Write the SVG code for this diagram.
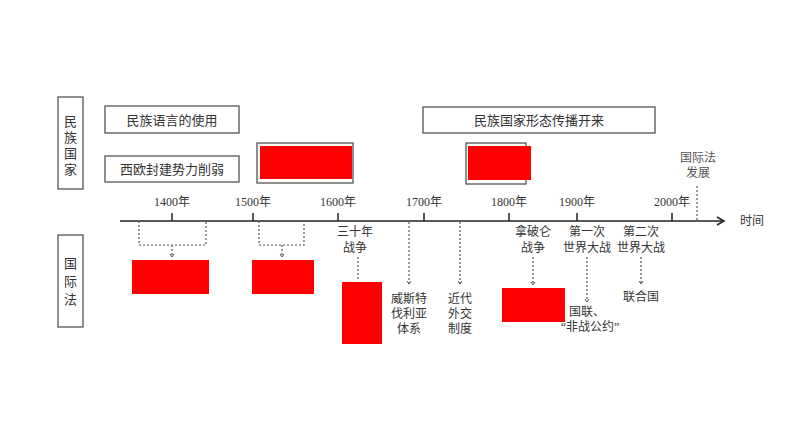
<svg xmlns="http://www.w3.org/2000/svg" width="794" height="447" viewBox="0 0 794 447">
<defs>
<style>
text{font-family:"Liberation Serif","Noto Sans CJK SC",serif;fill:#333;text-anchor:middle;dominant-baseline:central}
.t{font-size:13px}
.s{font-size:12px}
.box{fill:#fff;stroke:#555;stroke-width:1.3}
.red{fill:#ff0000}
.dot{fill:none;stroke:#555;stroke-width:1.2;stroke-dasharray:2 2}
.ax{stroke:#222;stroke-width:1.5;fill:none}
</style>
<marker id="ah" markerWidth="6" markerHeight="6" refX="3" refY="3" orient="auto" markerUnits="userSpaceOnUse"><path d="M0,1 L3,3 L0,5" fill="none" stroke="#555" stroke-width="1"/></marker>
<marker id="big" markerWidth="10" markerHeight="10" refX="8" refY="5" orient="auto" markerUnits="userSpaceOnUse"><path d="M1,1 L8,5 L1,9" fill="none" stroke="#222" stroke-width="1.5"/></marker>
</defs>

<g id="label-nation">
<rect class="box" x="58" y="97" width="25" height="92"/>
<text class="t" x="70.5" y="121" font-size="15">民</text>
<text class="t" x="70.5" y="137" font-size="15">族</text>
<text class="t" x="70.5" y="153" font-size="15">国</text>
<text class="t" x="70.5" y="169" font-size="15">家</text>
</g>
<g id="label-law">
<rect class="box" x="58" y="235" width="25" height="92"/>
<text class="t" x="70.5" y="263" font-size="15">国</text>
<text class="t" x="70.5" y="281" font-size="15">际</text>
<text class="t" x="70.5" y="299" font-size="15">法</text>
</g>

<g id="n-language">
<rect class="box" x="105" y="106" width="134" height="27"/>
<text class="t" x="172" y="120" font-size="14">民族语言的使用</text>
</g>
<g id="n-feudal">
<rect class="box" x="105" y="156" width="134" height="26"/>
<text class="t" x="172" y="169" font-size="14">西欧封建势力削弱</text>
</g>
<g id="n-spread">
<rect class="box" x="423" y="107" width="232" height="26"/>
<text class="t" x="539" y="120" font-size="14">民族国家形态传播开来</text>
</g>
<g id="n-red-top1">
<rect class="box" x="257" y="143" width="96" height="40"/>
<rect class="red" x="260" y="146" width="92" height="33"/>
</g>
<g id="n-red-top2">
<rect class="box" x="466" y="143" width="60" height="41"/>
<rect class="red" x="468" y="146" width="63" height="34"/>
</g>

<g id="timeline">
<line class="ax" x1="120" y1="221" x2="724" y2="221" marker-end="url(#big)"/>
<line class="ax" x1="172" y1="213" x2="172" y2="221"/>
<line class="ax" x1="253" y1="213" x2="253" y2="221"/>
<line class="ax" x1="338" y1="213" x2="338" y2="221"/>
<line class="ax" x1="424" y1="213" x2="424" y2="221"/>
<line class="ax" x1="509" y1="213" x2="509" y2="221"/>
<line class="ax" x1="577" y1="213" x2="577" y2="221"/>
<line class="ax" x1="672" y1="213" x2="672" y2="221"/>
<text class="s" x="172" y="202">1400年</text>
<text class="s" x="253" y="202">1500年</text>
<text class="s" x="338" y="202">1600年</text>
<text class="s" x="424" y="202">1700年</text>
<text class="s" x="509" y="202">1800年</text>
<text class="s" x="577" y="202">1900年</text>
<text class="s" x="672" y="202">2000年</text>
<text class="s" x="752" y="221" font-size="11">时间</text>
</g>

<g id="n-dev">
<text class="s" x="698" y="158" fill="#555" style="fill:#555">国际法</text>
<text class="s" x="698" y="173" style="fill:#555">发展</text>
</g>

<g id="connectors">
<line class="dot" x1="697" y1="186" x2="697" y2="220"/>
<polyline class="dot" points="139,221 139,245 206,245 206,221"/>
<line class="dot" x1="172" y1="245" x2="172" y2="257" marker-end="url(#ah)"/>
<polyline class="dot" points="259,221 259,245 304,245 304,221"/>
<line class="dot" x1="282" y1="245" x2="282" y2="257" marker-end="url(#ah)"/>
<line class="dot" x1="358" y1="257" x2="358" y2="281"/>
<line class="dot" x1="409" y1="222" x2="409" y2="284" marker-end="url(#ah)"/>
<line class="dot" x1="460" y1="222" x2="460" y2="284" marker-end="url(#ah)"/>
<line class="dot" x1="533" y1="257" x2="533" y2="285" marker-end="url(#ah)"/>
<line class="dot" x1="587" y1="257" x2="587" y2="302" marker-end="url(#ah)"/>
<line class="dot" x1="641" y1="257" x2="641" y2="284" marker-end="url(#ah)"/>
</g>

<g id="n-red-b1"><rect class="red" x="132" y="260" width="77" height="34"/></g>
<g id="n-red-b2"><rect class="red" x="252" y="260" width="62" height="34"/></g>
<g id="n-30war">
<text class="s" x="355" y="232">三十年</text>
<text class="s" x="355" y="248">战争</text>
</g>
<g id="n-red-b3"><rect class="red" x="342" y="282" width="40" height="62"/></g>
<g id="n-westphalia">
<text class="s" x="409" y="299">威斯特</text>
<text class="s" x="409" y="314">伐利亚</text>
<text class="s" x="409" y="329">体系</text>
</g>
<g id="n-diplomacy">
<text class="s" x="460" y="299">近代</text>
<text class="s" x="460" y="314">外交</text>
<text class="s" x="460" y="329">制度</text>
</g>
<g id="n-napoleon">
<text class="s" x="533" y="232">拿破仑</text>
<text class="s" x="533" y="248">战争</text>
</g>
<g id="n-red-b4"><rect class="red" x="502" y="288" width="63" height="34"/></g>
<g id="n-ww1">
<text class="s" x="587" y="232">第一次</text>
<text class="s" x="587" y="248">世界大战</text>
</g>
<g id="n-league">
<text class="s" x="587" y="312">国联、</text>
<text class="s" x="590" y="327">“非战公约”</text>
</g>
<g id="n-ww2">
<text class="s" x="641" y="232">第二次</text>
<text class="s" x="641" y="248">世界大战</text>
</g>
<g id="n-un">
<text class="s" x="641" y="297">联合国</text>
</g>
</svg>
